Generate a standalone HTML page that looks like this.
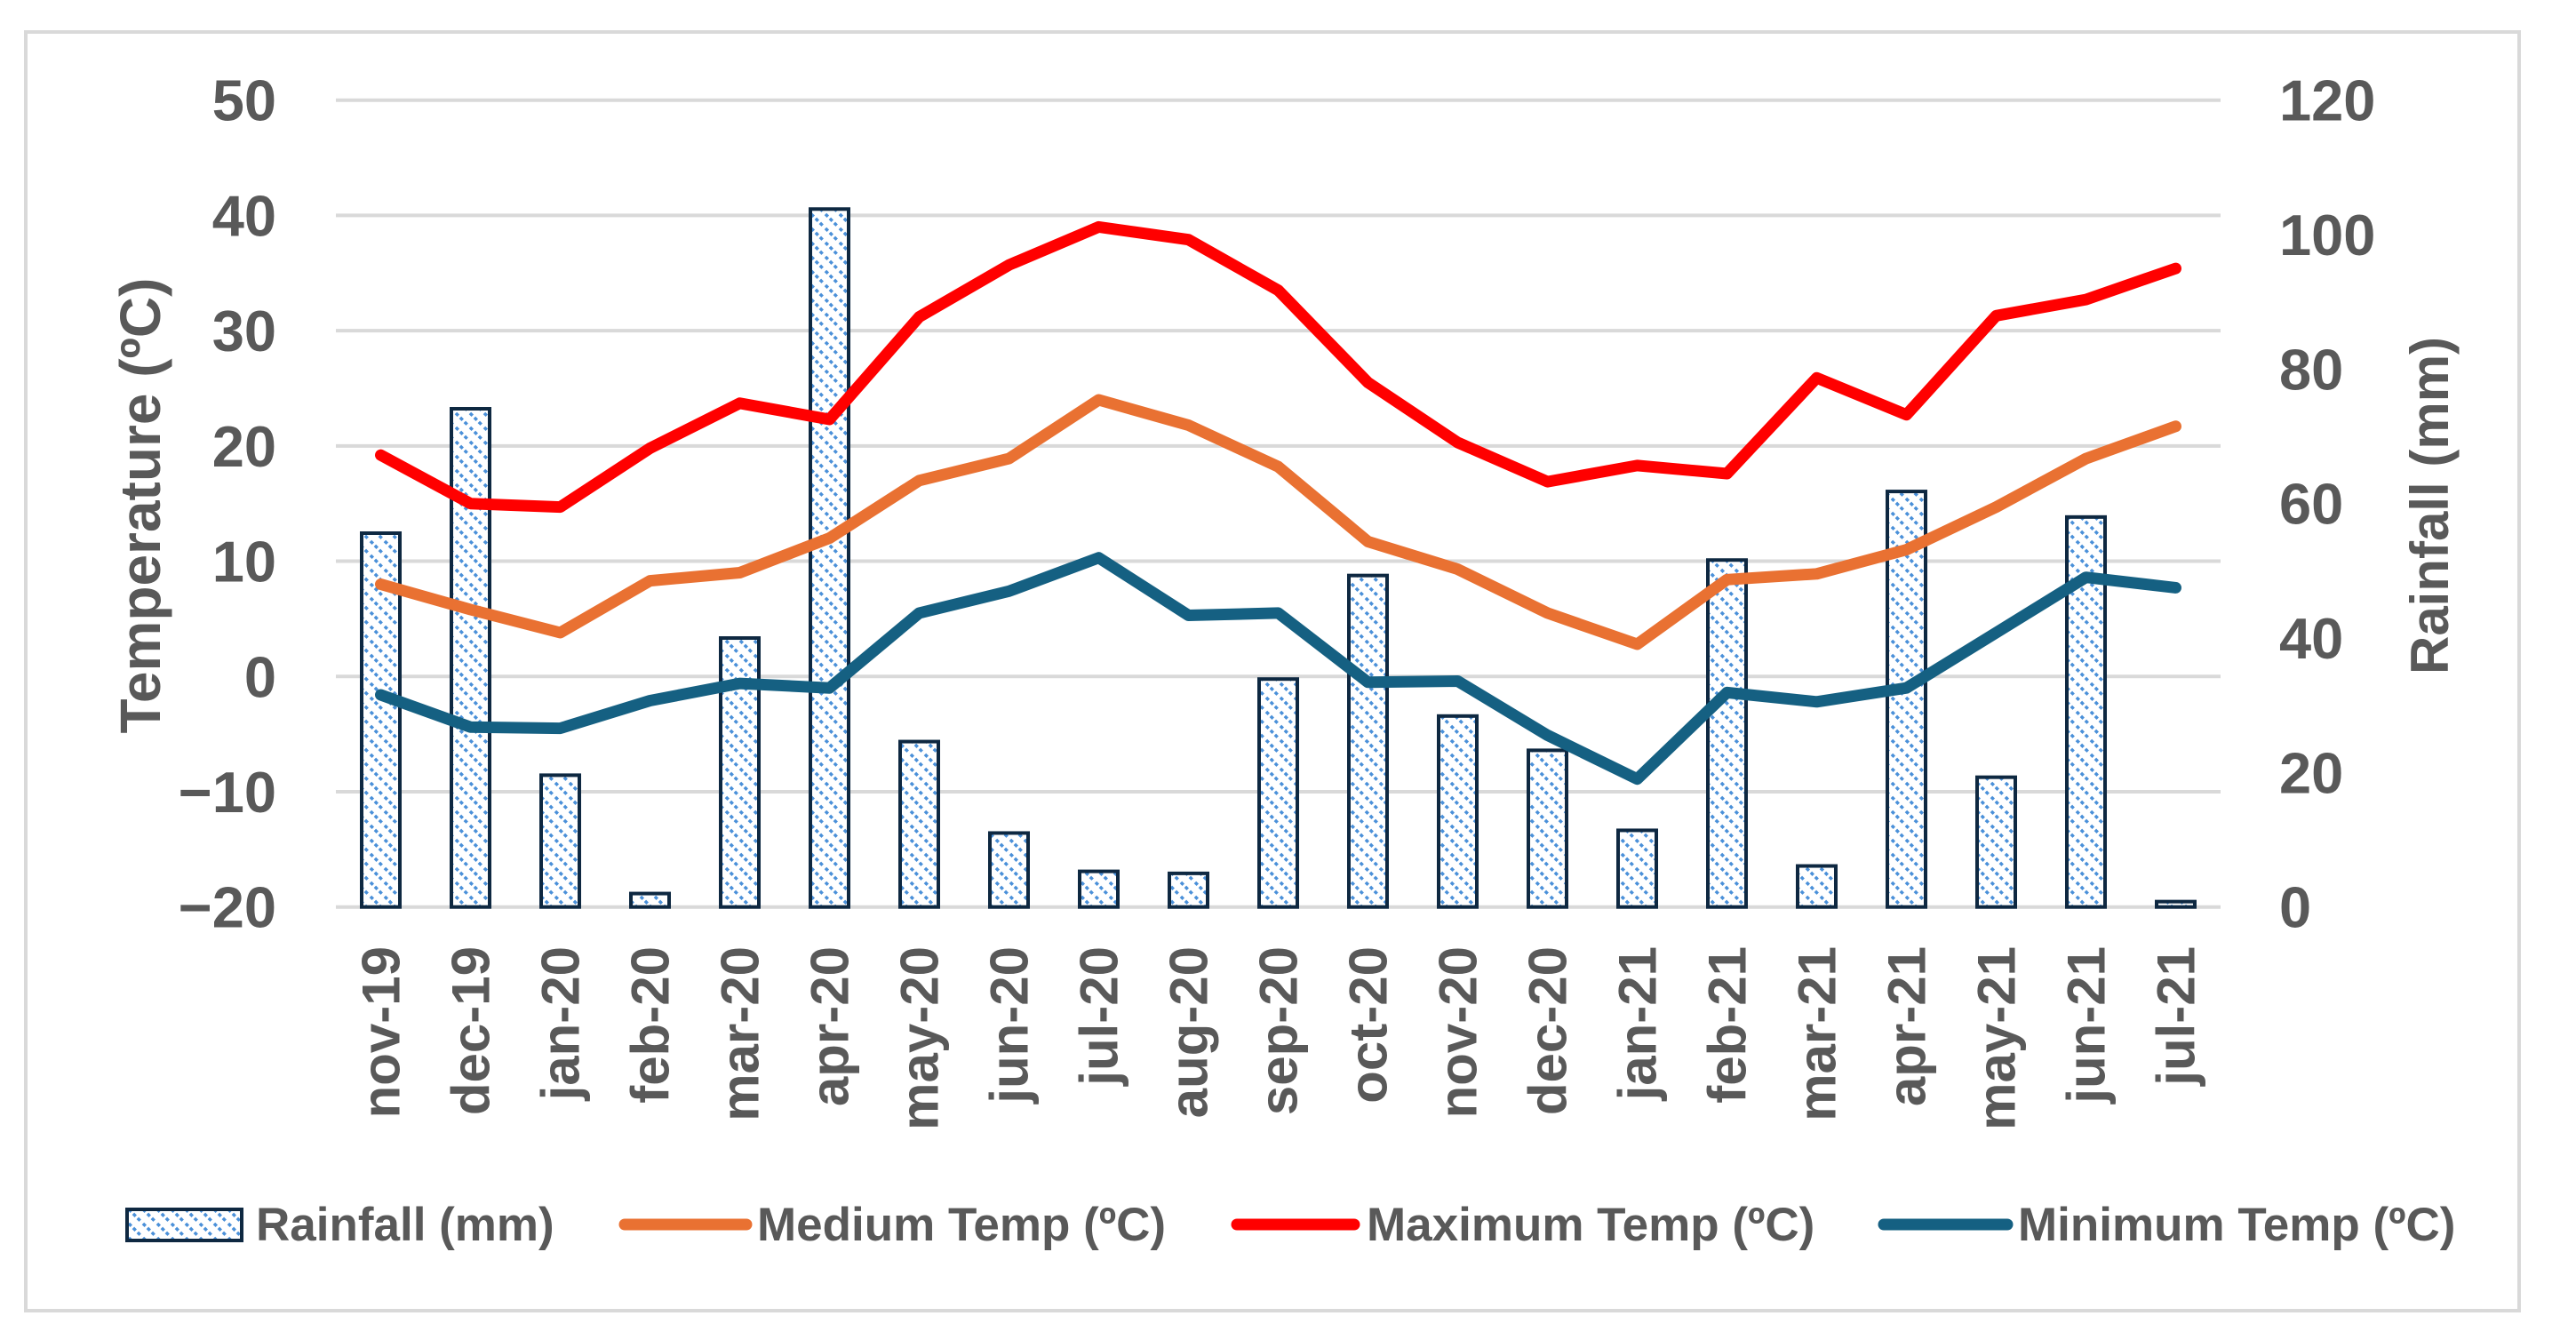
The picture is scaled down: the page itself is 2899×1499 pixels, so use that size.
<!DOCTYPE html>
<html><head><meta charset="utf-8"><style>
html,body{margin:0;padding:0;background:#fff;}
svg{display:block;font-family:"Liberation Sans",sans-serif;font-weight:bold;}
</style></head><body>
<svg id="chart" width="2899" height="1499" viewBox="0 0 2899 1499" xmlns="http://www.w3.org/2000/svg">
<defs>
<pattern id="hatch" patternUnits="userSpaceOnUse" width="16" height="16">
<rect width="16" height="16" fill="#fff"/>
<path d="M-4,-4 L20,20 M-4,12 L4,20 M12,-4 L20,4" stroke="#4a90d9" stroke-width="3.5" stroke-dasharray="4,3"/>
</pattern>
</defs>
<rect x="29" y="36" width="2806" height="1439" fill="#fff" stroke="#d9d9d9" stroke-width="4"/>
<g id="grid"></g>
<g id="bars"></g>
<g id="lines"></g>
<g id="labels"></g>
<text transform="translate(180,569) rotate(-90)" text-anchor="middle" font-size="64" fill="#595959">Temperature (ºC)</text>
<text transform="translate(2755,569) rotate(-90)" text-anchor="middle" font-size="60" fill="#595959">Rainfall (mm)</text>
<g>
<rect x="143" y="1361" width="129" height="35" fill="url(#hatch)" stroke="#0e2841" stroke-width="4"/>
<text x="288" y="1396" font-size="53" fill="#595959">Rainfall (mm)</text>
<line x1="703" y1="1378" x2="840" y2="1378" stroke="#e97132" stroke-width="13" stroke-linecap="round"/>
<text x="852" y="1396" font-size="53" fill="#595959">Medium Temp (ºC)</text>
<line x1="1392" y1="1378" x2="1524" y2="1378" stroke="#ff0000" stroke-width="13" stroke-linecap="round"/>
<text x="1538" y="1396" font-size="53" fill="#595959">Maximum Temp (ºC)</text>
<line x1="2120" y1="1378" x2="2259" y2="1378" stroke="#156082" stroke-width="13" stroke-linecap="round"/>
<text x="2271" y="1396" font-size="53" fill="#595959">Minimum Temp (ºC)</text>
</g>
</svg>
<script>
const categories = ["nov-19","dec-19","jan-20","feb-20","mar-20","apr-20","may-20","jun-20","jul-20","aug-20","sep-20","oct-20","nov-20","dec-20","jan-21","feb-21","mar-21","apr-21","may-21","jun-21","jul-21"];
const rainfall = [55.6,74.1,19.6,2.0,40.0,103.8,24.6,11.0,5.3,5.0,33.9,49.3,28.4,23.3,11.4,51.6,6.1,61.8,19.3,58.0,0.8];
const mediumTemp = [8.0,5.8,3.8,8.3,9.0,12.0,17.0,18.9,24.0,21.8,18.2,11.7,9.3,5.5,2.8,8.4,8.9,11.0,14.7,18.9,21.7];
const maximumTemp = [19.2,15.0,14.7,19.8,23.7,22.3,31.2,35.7,39.0,37.9,33.5,25.5,20.3,16.9,18.3,17.6,25.9,22.7,31.3,32.7,35.4];
const minimumTemp = [-1.6,-4.4,-4.5,-2.1,-0.6,-1.0,5.5,7.4,10.3,5.3,5.5,-0.5,-0.4,-5.1,-8.9,-1.4,-2.2,-1.0,3.8,8.6,7.7];
const leftTicks = [50,40,30,20,10,0,-10,-20];
const rightTicks = [120,100,80,60,40,20,0];

const NS = "http://www.w3.org/2000/svg";
const plotL = 378, plotR = 2499, plotT = 112.7, plotB = 1020.7;
const step = (plotR - plotL) / categories.length;
function xPos(i){ return plotL + step * (i + 0.5); }
function yT(v){ return plotB - (v + 20) / 70 * (plotB - plotT); }
function yR(v){ return plotB - v / 120 * (plotB - plotT); }
function mk(tag, attrs, parent){ const e = document.createElementNS(NS, tag); for (const k in attrs) e.setAttribute(k, attrs[k]); parent.appendChild(e); return e; }

const grid = document.getElementById('grid');
const labels = document.getElementById('labels');
leftTicks.forEach(function(t){
  const l = mk('line', {x1: plotL, x2: plotR, y1: yT(t), y2: yT(t), stroke: '#d9d9d9', 'stroke-width': 4}, grid);
  
  
  const tx = mk('text', {x: 311, y: yT(t) + 23, 'text-anchor': 'end', 'font-size': 65, fill: '#595959'}, labels);
  tx.textContent = t < 0 ? '\u2212' + Math.abs(t) : String(t);
  
  
});
rightTicks.forEach(function(t){
  const tx = mk('text', {x: 2565, y: yR(t) + 23, 'font-size': 65, fill: '#595959'}, labels);
  tx.textContent = String(t);
  
  
});
categories.forEach(function(c, i){
  const tx = mk('text', {transform: 'translate(' + (xPos(i) + 21) + ',1065) rotate(-90)', 'text-anchor': 'end', 'font-size': 60, fill: '#595959'}, labels);
  tx.textContent = c;
  
  
});
const bars = document.getElementById('bars');
rainfall.forEach(function(v, i){
  const y = yR(v);
  const r = mk('rect', {x: xPos(i) - 21.5, y: y, width: 43, height: Math.max(plotB - y, 1), fill: 'url(#hatch)', stroke: '#0e2841', 'stroke-width': 4}, bars);
  
  
});
const linesG = document.getElementById('lines');
[[mediumTemp, '#e97132', 'medium-temp-line'], [maximumTemp, '#ff0000', 'maximum-temp-line'], [minimumTemp, '#156082', 'minimum-temp-line']].forEach(function(s){
  const pts = s[0].map(function(v, i){ return xPos(i).toFixed(1) + ',' + yT(v).toFixed(1); }).join(' ');
  const p = mk('polyline', {points: pts, fill: 'none', stroke: s[1], 'stroke-width': 13, 'stroke-linejoin': 'round', 'stroke-linecap': 'round'}, linesG);
  
  
});
</script>
</body></html>
